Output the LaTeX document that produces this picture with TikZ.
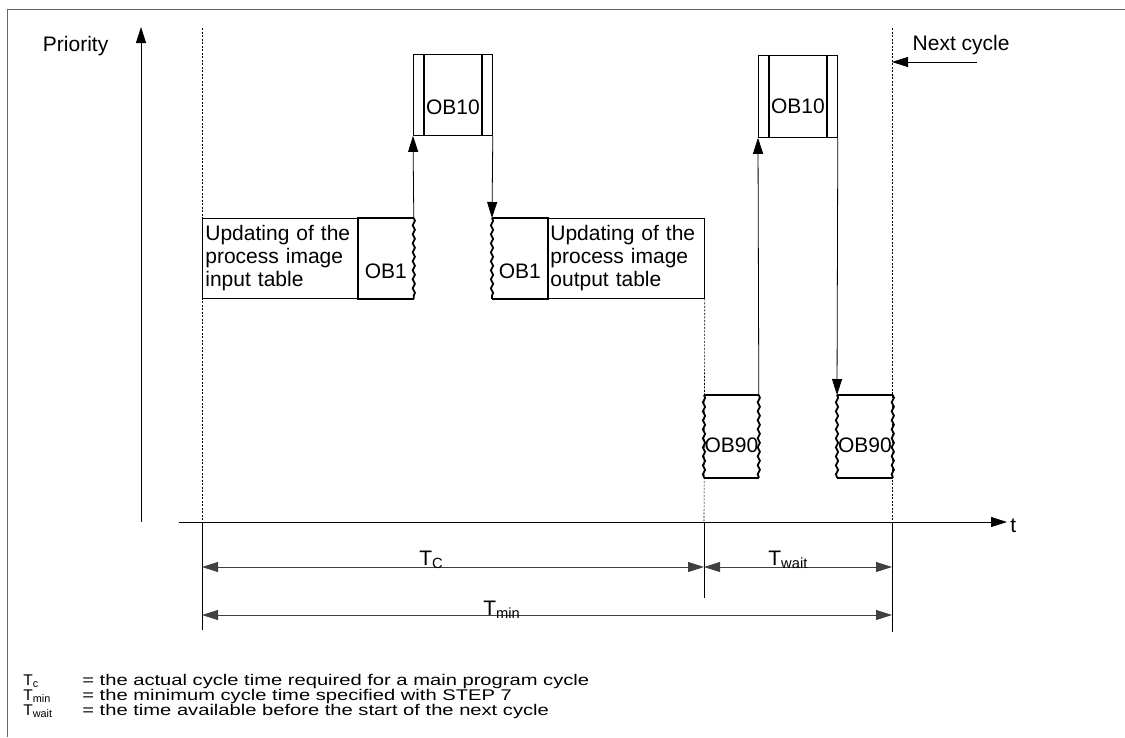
\documentclass[tikz,border=0pt]{standalone}
\usepackage{fontspec}
\setmainfont{Liberation Sans}
\usepackage{graphicx}
\usetikzlibrary{arrows.meta,decorations.pathmorphing}

\newcommand{\widetext}[1]{\scalebox{1.3}[1]{#1}}

\tikzset{
  box/.style={inner sep=0pt, anchor=north west},
  lbl/.style={font=\fontsize{21}{23}\selectfont},
  keytext/.style={font=\fontsize{15.5}{15}\selectfont, inner sep=0pt, anchor=base west},
  wavy/.style={decorate, decoration={snake, amplitude=1.1pt, segment length=9pt}},
  heavy/.style={line width=1.8pt},
  arr/.style={-{Triangle[length=16pt,width=10pt]}},
  dimline/.style={{Triangle[length=16pt,width=10pt]}-{Triangle[length=16pt,width=10pt]}, draw=black!75},
  guide/.style={dash pattern=on 2pt off 1.5pt, line width=0.6pt}
}

\begin{document}
\begin{tikzpicture}[x=1pt, y=-1pt, line width=0.8pt]
    \useasboundingbox (0,0) rectangle (1125,737);

    % Frame
    \draw[black!60] (7,737) -- (7,9) -- (1125,9);

    % Axes
    \coordinate (ybot) at (141,522);
    \coordinate (ytop) at (141,27);
    \coordinate (xleft) at (179,522);
    \coordinate (xright) at (1007,522);
    \draw[arr] (ybot) -- (ytop);
    \draw[arr] (xleft) -- (xright);
    \node[lbl, anchor=east] (prio) at (112,46) {Priority};
    \node[lbl, anchor=north west, inner sep=0pt] (tlab) at (1010,519) {t};

    % Process image tables and OB1
    \node[box, draw, lbl, minimum width=156pt, minimum height=80pt,
          text width=150pt, align=left, inner xsep=3pt] (intab) at (202,218)
          {Updating of the\\process image\\input table};
    \node[box, minimum width=55pt, minimum height=80pt] (ob1a) at (358,218) {};
    \draw[heavy] (ob1a.north east) -- (ob1a.north west) -- (ob1a.south west) -- (ob1a.south east);
    \draw[heavy, wavy] (ob1a.north east) -- (ob1a.south east);
    \node[lbl] (ob1atext) at ([yshift=-13pt]ob1a.center) {OB1};

    \node[box, minimum width=55pt, minimum height=80pt] (ob1b) at (492,218) {};
    \draw[heavy] (ob1b.north west) -- (ob1b.north east) -- (ob1b.south east) -- (ob1b.south west);
    \draw[heavy, wavy] (ob1b.north west) -- (ob1b.south west);
    \node[lbl] (ob1btext) at ([yshift=-13pt]ob1b.center) {OB1};
    \node[box, draw, lbl, minimum width=157pt, minimum height=80pt,
          text width=151pt, align=left, inner xsep=3pt] (outtab) at (547,218)
          {Updating of the\\process image\\output table};

    % OB10 (first cycle)
    \node[box, draw, minimum width=79pt, minimum height=81pt] (ob10a) at (413,54) {};
    \draw[heavy] ([xshift=11pt]ob10a.north west) -- ([xshift=11pt]ob10a.south west);
    \draw[heavy] ([xshift=-11pt]ob10a.north east) -- ([xshift=-11pt]ob10a.south east);
    \node[lbl] (ob10atext) at ([yshift=-12pt]ob10a.center) {OB10};
    \draw[arr] (ob1a.north east) -- (ob10a.south west);
    \draw[arr] (ob10a.south east) -- (ob1b.north west);

    % OB90 and OB10 (waiting time)
    \node[box, minimum width=54pt, minimum height=82pt] (ob90a) at (704,395) {};
    \draw[heavy] (ob90a.north west) -- (ob90a.north east);
    \draw[heavy] (ob90a.south west) -- (ob90a.south east);
    \draw[heavy, wavy] (ob90a.north west) -- (ob90a.south west);
    \draw[heavy, wavy] (ob90a.north east) -- (ob90a.south east);
    \node[lbl] (ob90atext) at ([yshift=-9pt]ob90a.center) {OB90};

    \node[box, minimum width=55pt, minimum height=82pt] (ob90b) at (837,395) {};
    \draw[heavy] (ob90b.north west) -- (ob90b.north east);
    \draw[heavy] (ob90b.south west) -- (ob90b.south east);
    \draw[heavy, wavy] (ob90b.north west) -- (ob90b.south west);
    \draw[heavy, wavy] (ob90b.north east) -- (ob90b.south east);
    \node[lbl] (ob90btext) at ([yshift=-9pt]ob90b.center) {OB90};

    \node[box, draw, minimum width=79pt, minimum height=82pt] (ob10b) at (758,55) {};
    \draw[heavy] ([xshift=11pt]ob10b.north west) -- ([xshift=11pt]ob10b.south west);
    \draw[heavy] ([xshift=-11pt]ob10b.north east) -- ([xshift=-11pt]ob10b.south east);
    \node[lbl] (ob10btext) at ([yshift=-10pt]ob10b.center) {OB10};
    \draw[arr] (ob90a.north east) -- (ob10b.south west);
    \draw[arr] (ob10b.south east) -- (ob90b.north west);

    % Cycle boundaries
    \coordinate (c0top) at (202,28);
    \coordinate (c0ax) at (202,522);
    \coordinate (c0bot) at (202,630);
    \coordinate (c1ax) at (704,522);
    \coordinate (c1bot) at (704,598);
    \coordinate (c2top) at (892,28);
    \coordinate (c2ax) at (892,522);
    \coordinate (c2bot) at (892,632);
    \draw[guide] (c0top) -- (c0ax);
    \draw[guide] (outtab.south east) -- (c1ax);
    \draw[guide] (c2top) -- (c2ax);
    \draw (c0ax) -- (c0bot);
    \draw (c1ax) -- (c1bot);
    \draw (c2ax) -- (c2bot);

    % Next cycle
    \node[lbl, anchor=west] (next) at (909,45) {Next cycle};
    \coordinate (nextfrom) at (977,62);
    \coordinate (nextto) at (892,62);
    \draw[arr] (nextfrom) -- (nextto);

    % Time spans
    \coordinate (tcl) at (202,567);
    \coordinate (tcr) at (704,567);
    \coordinate (twr) at (892,567);
    \coordinate (tml) at (202,615);
    \coordinate (tmr) at (892,615);
    \draw[dimline] (tcl) -- (tcr);
    \draw[dimline] (tcr) -- (twr);
    \draw[dimline] (tml) -- (tmr);
    \node[lbl, anchor=base west, inner sep=0pt] (tclab) at (419,565) {T\textsubscript{C}};
    \node[lbl, anchor=base west, inner sep=0pt] (twlab) at (768,565) {T\textsubscript{wait}};
    \node[lbl, anchor=base west, inner sep=0pt] (tmlab) at (483,615) {T\textsubscript{min}};

    % Legend
    \node[keytext] (kc) at (23,685) {T\textsubscript{c}};
    \node[keytext] (kmin) at (23,700) {T\textsubscript{min}};
    \node[keytext] (kwait) at (23,715) {T\textsubscript{wait}};
    \node[keytext] (kcdesc) at (82,685) {\widetext{= the actual cycle time required for a main program cycle}};
    \node[keytext] (kmindesc) at (82,700) {\widetext{= the minimum cycle time specified with STEP 7}};
    \node[keytext] (kwaitdesc) at (82,715) {\widetext{= the time available before the start of the next cycle}};
\end{tikzpicture}
\end{document}
